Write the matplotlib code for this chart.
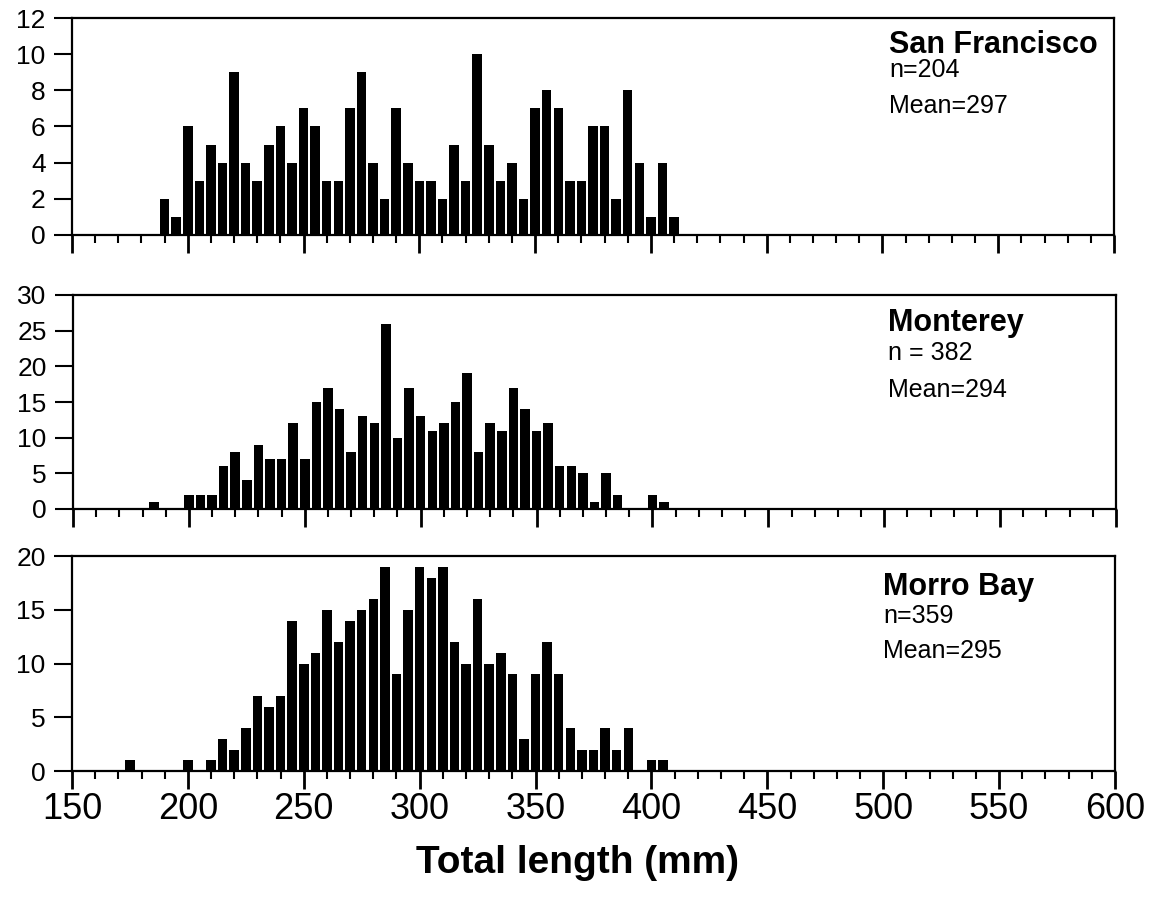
import numpy as np
import matplotlib
matplotlib.use("Agg")
import matplotlib.pyplot as plt
from matplotlib.ticker import MultipleLocator

# ==========================================
# データ (5 mm ごとの体長階級と個体数)
# ==========================================
length_bins = [175, 180, 185, 190, 195, 200, 205, 210, 215, 220, 225, 230,
               235, 240, 245, 250, 255, 260, 265, 270, 275, 280, 285, 290,
               295, 300, 305, 310, 315, 320, 325, 330, 335, 340, 345, 350,
               355, 360, 365, 370, 375, 380, 385, 390, 395, 400, 405, 410]

sf_counts = [0, 0, 0, 2, 1, 6, 3, 5, 4, 9, 4, 3,
             5, 6, 4, 7, 6, 3, 3, 7, 9, 4, 2, 7,
             4, 3, 3, 2, 5, 3, 10, 5, 3, 4, 2, 7,
             8, 7, 3, 3, 6, 6, 2, 8, 4, 1, 4, 1]

monterey_counts = [0, 0, 1, 0, 0, 2, 2, 2, 6, 8, 4, 9,
                   7, 7, 12, 7, 15, 17, 14, 8, 13, 12, 26, 10,
                   17, 13, 11, 12, 15, 19, 8, 12, 11, 17, 14, 11,
                   12, 6, 6, 5, 1, 5, 2, 0, 0, 2, 1, 0]

morro_counts = [1, 0, 0, 0, 0, 1, 0, 1, 3, 2, 4, 7,
                6, 7, 14, 10, 11, 15, 12, 14, 15, 16, 19, 9,
                15, 19, 18, 19, 12, 10, 16, 10, 11, 9, 3, 9,
                12, 9, 4, 2, 2, 4, 2, 4, 0, 1, 1, 0]

site_names = ["San Francisco", "Monterey", "Morro Bay"]
n_labels = ["n=204", "n = 382", "n=359"]
mean_labels = ["Mean=297", "Mean=294", "Mean=295"]
y_max = [12, 30, 20]
y_step = [2, 5, 5]

# ==========================================
# レイアウト (ピクセル単位: 左, 上, 右, 下)
# ==========================================
W, H = 1158, 897
PANEL_BOX = [(72, 18, 1114, 235),
             (73, 295, 1116, 509),
             (72, 556, 1115, 771)]
# 注記テキストの位置 (x, タイトル基線, n 基線, Mean 基線)
TEXT_POS = [(889, 53, 77, 113),
            (888, 331, 360, 397),
            (883, 595, 623, 658)]

plt.rcParams['font.family'] = ['Liberation Sans', 'DejaVu Sans']


def draw_panel(fig, box, counts, ymax, ystep, show_xlabels):
    l, t, r, b = box
    ax = fig.add_axes([l / W, 1 - b / H, (r - l) / W, (b - t) / H])
    ax.bar(length_bins, counts, width=4.1, color='black', linewidth=0)
    ax.set_xlim(150, 600)
    ax.set_ylim(0, ymax)
    ax.xaxis.set_major_locator(MultipleLocator(50))
    ax.xaxis.set_minor_locator(MultipleLocator(10))
    ax.yaxis.set_major_locator(MultipleLocator(ystep))
    ax.tick_params(axis='x', which='major', direction='out', length=13, width=2.0,
                   labelsize=26, pad=2, labelbottom=show_xlabels)
    ax.tick_params(axis='x', which='minor', direction='out', length=6, width=1.5)
    ax.tick_params(axis='y', which='major', direction='out', length=13, width=1.5,
                   labelsize=19, pad=6)
    for sp in ax.spines.values():
        sp.set_linewidth(1.6)
    return ax


def main():
    fig = plt.figure(figsize=(W / 100, H / 100), dpi=100)
    all_counts = [sf_counts, monterey_counts, morro_counts]

    axes = []
    for i in range(3):
        ax = draw_panel(fig, PANEL_BOX[i], all_counts[i], y_max[i], y_step[i], i == 2)
        axes.append(ax)

        x, y_title, y_n, y_mean = TEXT_POS[i]
        fig.text(x / W, 1 - y_title / H, site_names[i], fontsize=22,
                 fontweight='bold', va='baseline', ha='left')
        fig.text(x / W, 1 - y_n / H, n_labels[i], fontsize=18,
                 va='baseline', ha='left')
        fig.text(x / W, 1 - y_mean / H, mean_labels[i], fontsize=18,
                 va='baseline', ha='left')

    # x軸ラベル (元図ではやや左寄り)
    axes[2].set_xlabel("Total length (mm)", fontsize=28, fontweight='bold')
    axes[2].xaxis.set_label_coords(0.485, -0.345)

    fig.savefig("out.png", dpi=100)


if __name__ == "__main__":
    main()
